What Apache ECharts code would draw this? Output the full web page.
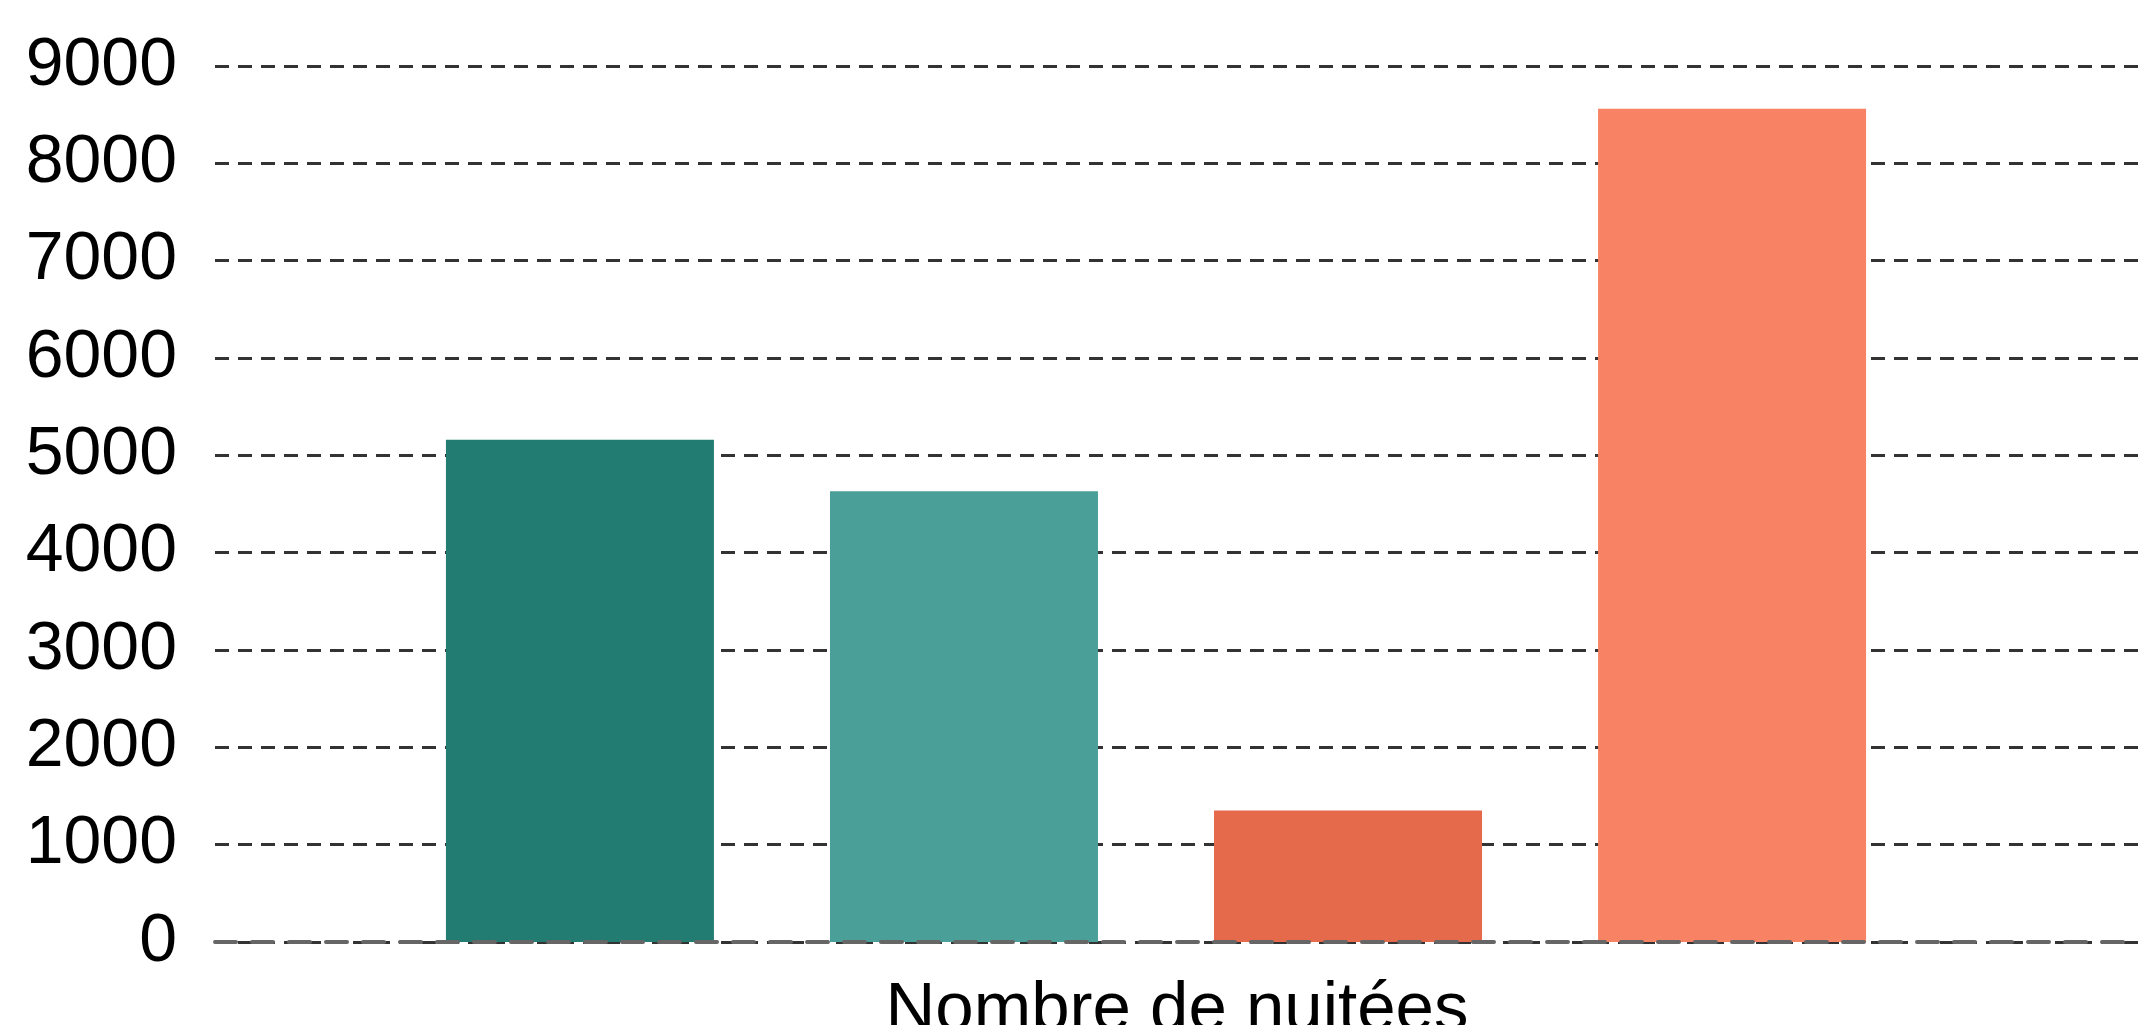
<!DOCTYPE html>
<html>
<head>
<meta charset="utf-8">
<script src="https://cdn.jsdelivr.net/npm/echarts@6/dist/echarts.min.js"></script>
<style>
    html, body { margin: 0; padding: 0; background: #fff; }
    #chart { width: 2139px; height: 1025px; }
</style>
</head>
<body>
<div id="chart"></div>
<script>
// données
const categories = ['Nombre de nuitées'];
const seriesNames = ['A', 'B', 'C', 'D'];
const seriesValues = [5160, 4630, 1350, 8560];
const barColors = ['#237c72', '#4aa098', '#e56a4c', '#f88264'];

const myChart = echarts.init(document.getElementById('chart'));

// les barres sont dans une 2e grille un peu décalée vers la gauche
const series = seriesNames.map((name, i) => ({
    name: name,
    type: 'bar',
    xAxisIndex: 1,
    yAxisIndex: 1,
    data: [seriesValues[i]],
    barWidth: 268,
    barGap: '43.3%',
    itemStyle: { color: barColors[i] },
    z: 2
}));

const option = {
    animation: false,
    grid: [
        { left: 215, right: 0, top: 66, bottom: 83, outerBoundsMode: 'none' },
        { left: 215, right: 42, top: 66, bottom: 83, outerBoundsMode: 'none' }
    ],
    xAxis: [
        {
            type: 'category',
            gridIndex: 0,
            data: categories,
            z: 10,
            axisTick: { show: false },
            axisLine: {
                show: true,
                lineStyle: { color: '#666', width: 4, type: [21, 16] }
            },
            axisLabel: {
                color: '#000',
                fontFamily: 'Liberation Sans',
                fontSize: 69,
                margin: 34
            }
        },
        {
            type: 'category',
            gridIndex: 1,
            data: categories,
            show: false
        }
    ],
    yAxis: [
        {
            type: 'value',
            gridIndex: 0,
            min: 0,
            max: 9000,
            interval: 1000,
            axisLine: { show: false },
            axisTick: { show: false },
            axisLabel: {
                color: '#000',
                fontFamily: 'Liberation Sans',
                fontSize: 68,
                margin: 38,
                formatter: v => String(v)
            },
            splitLine: {
                lineStyle: { color: '#333', width: 3, type: [14, 9] }
            }
        },
        {
            type: 'value',
            gridIndex: 1,
            min: 0,
            max: 9000,
            interval: 1000,
            show: false,
            splitLine: { show: false }
        }
    ],
    series: series
};

myChart.setOption(option);
</script>
</body>
</html>
